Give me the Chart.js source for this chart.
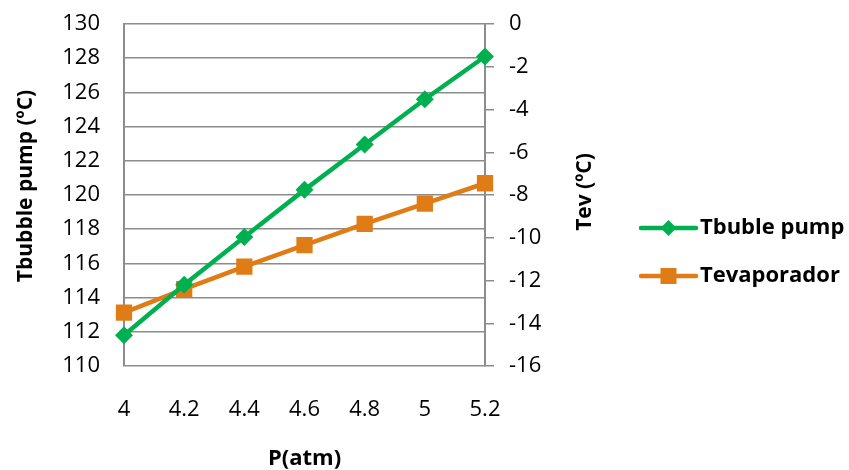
<!DOCTYPE html>
<html>
<head>
<meta charset="utf-8">
<script src="https://cdn.jsdelivr.net/npm/chart.js@4"></script>
<style>
  html, body { margin: 0; padding: 0; background: #ffffff; }
  #wrap { width: 849px; height: 470px; }
</style>
</head>
<body>
<div id="wrap"><canvas id="c" width="849" height="470"></canvas></div>
<script>
// Pressure values (atm) along the x axis
const pressures = ['4', '4.2', '4.4', '4.6', '4.8', '5', '5.2'];
// Bubble pump temperature (°C), left axis
const tBubblePump = [111.8, 114.75, 117.55, 120.3, 122.95, 125.6, 128.1];
// Evaporator temperature (°C), right axis
const tEvaporador = [-13.5, -12.4, -11.35, -10.35, -9.35, -8.4, -7.45];

const seriesNames = ['Tbuble pump', 'Tevaporador'];
const leftTitle = 'Tbubble pump (ºC)';
const rightTitle = 'Tev (ºC)';
const xTitle = 'P(atm)';

const GREEN = '#00b050';
const ORANGE = '#e07c16';
const GRID = '#8c8c8c';
const FONT = "'Open Sans', sans-serif";

// Vertical axis titles, both reading bottom-to-top
const axisTitles = {
  id: 'axisTitles',
  afterDraw(chart) {
    const ctx = chart.ctx;
    const draw = (text, x, y) => {
      ctx.save();
      ctx.translate(x, y);
      ctx.rotate(-Math.PI / 2);
      ctx.fillStyle = '#000000';
      ctx.font = 'bold 21px ' + FONT;
      ctx.textAlign = 'center';
      ctx.textBaseline = 'middle';
      ctx.fillText(text, 0, 0);
      ctx.restore();
    };
    draw(leftTitle, 26, 186);
    draw(rightTitle, 585, 192);
  }
};

// Legend drawn in the space to the right of the secondary axis
const sideLegend = {
  id: 'sideLegend',
  afterDraw(chart) {
    const ctx = chart.ctx;
    const rows = [228, 276];
    chart.data.datasets.forEach((ds, i) => {
      const y = rows[i];
      const x0 = 641, x1 = 696, xm = (x0 + x1) / 2;
      ctx.save();
      ctx.strokeStyle = ds.borderColor;
      ctx.lineWidth = 4.5;
      ctx.lineCap = 'round';
      ctx.beginPath();
      ctx.moveTo(x0, y);
      ctx.lineTo(x1, y);
      ctx.stroke();
      ctx.fillStyle = ds.borderColor;
      ctx.beginPath();
      if (ds.pointStyle === 'rectRot') {
        const r = 8;
        ctx.moveTo(xm, y - r); ctx.lineTo(xm + r, y); ctx.lineTo(xm, y + r); ctx.lineTo(xm - r, y);
        ctx.closePath();
      } else {
        ctx.rect(xm - 8, y - 8, 16, 16);
      }
      ctx.fill();
      ctx.fillStyle = '#000000';
      ctx.font = 'bold 22px ' + FONT;
      ctx.textBaseline = 'middle';
      ctx.textAlign = 'left';
      ctx.fillText(ds.label, 700, y);
      ctx.restore();
    });
  }
};

// Fixed scale boxes so the plot area sits at a set place
const noEdgePadding = (scale) => {
  scale.paddingTop = 0;
  scale.paddingBottom = 0;
  scale.paddingLeft = 0;
  scale.paddingRight = 0;
};

new Chart(document.getElementById('c'), {
  type: 'line',
  data: {
    labels: pressures,
    datasets: [
      {
        label: seriesNames[0],
        data: tBubblePump,
        yAxisID: 'y',
        borderColor: GREEN,
        backgroundColor: GREEN,
        borderWidth: 4.5,
        pointStyle: 'rectRot',
        pointRadius: 9,
        pointHoverRadius: 9,
        pointBorderWidth: 0,
        tension: 0
      },
      {
        label: seriesNames[1],
        data: tEvaporador,
        yAxisID: 'y1',
        borderColor: ORANGE,
        backgroundColor: ORANGE,
        borderWidth: 4.5,
        pointStyle: 'rect',
        pointRadius: 11.5,
        pointHoverRadius: 11.5,
        pointBorderWidth: 0,
        tension: 0
      }
    ]
  },
  options: {
    responsive: false,
    animation: false,
    devicePixelRatio: 1,
    layout: { padding: { top: 24, left: 0, right: 253, bottom: 0 } },
    plugins: {
      legend: { display: false },
      tooltip: { enabled: false }
    },
    scales: {
      x: {
        type: 'category',
        offset: false,
        grid: { display: false, drawTicks: false },
        border: { display: false },
        ticks: {
          color: '#000000',
          font: { family: FONT, size: 22 },
          padding: 31,
          maxRotation: 0,
          autoSkip: false
        },
        title: {
          display: true,
          text: xTitle,
          color: '#000000',
          font: { family: FONT, size: 22, weight: 'bold' },
          padding: { top: 0, bottom: -2 }
        },
        afterFit(scale) { scale.height = 104; noEdgePadding(scale); }
      },
      y: {
        position: 'left',
        min: 110,
        max: 130,
        grid: { color: GRID, lineWidth: 1.5, drawTicks: false },
        border: { display: true, color: GRID, width: 2 },
        ticks: {
          stepSize: 2,
          color: '#000000',
          font: { family: FONT, size: 22 },
          padding: 24
        },
        title: { display: false },
        afterFit(scale) { scale.width = 124; noEdgePadding(scale); }
      },
      y1: {
        position: 'right',
        min: -16,
        max: 0,
        grid: { drawOnChartArea: false, color: GRID, lineWidth: 1.5, drawTicks: true, tickLength: 9 },
        border: { display: true, color: GRID, width: 2 },
        ticks: {
          stepSize: 2,
          color: '#000000',
          font: { family: FONT, size: 22 },
          padding: 15
        },
        title: { display: false },
        afterFit(scale) { scale.width = 111; noEdgePadding(scale); }
      }
    }
  },
  plugins: [axisTitles, sideLegend]
});
</script>
</body>
</html>
